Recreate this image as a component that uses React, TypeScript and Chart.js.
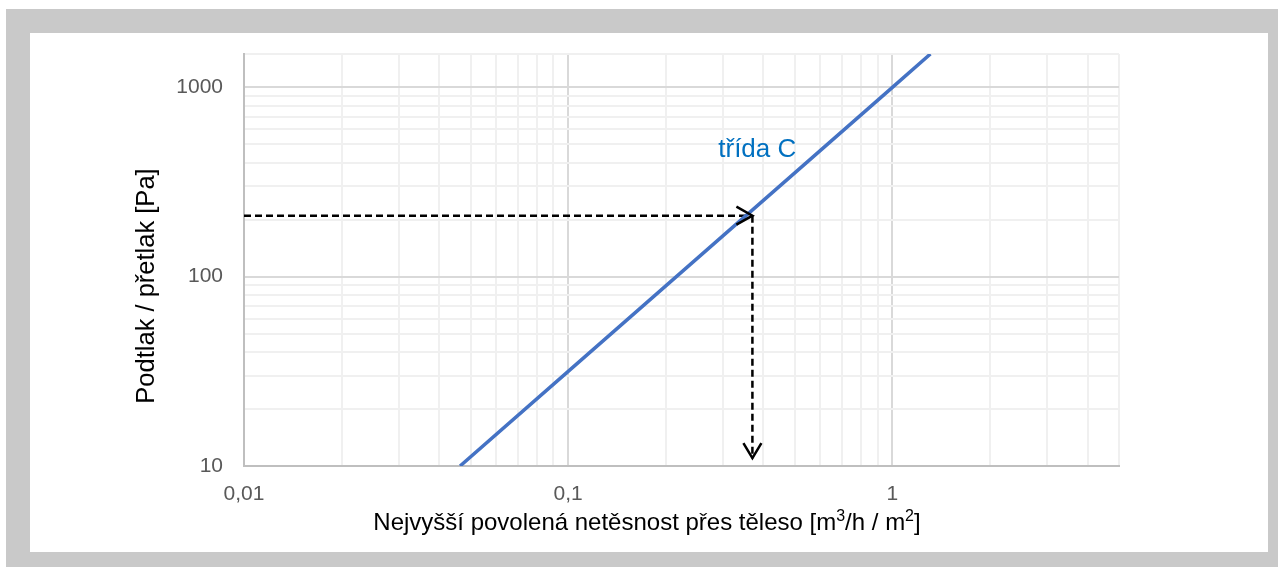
import React, { useEffect, useRef } from "react";
import { Chart, registerables } from "chart.js";

Chart.register(...registerables);

// ---- data ----
const lineX = [0.0464, 0.1, 1, 1.31];
const lineY = [10, 31.6, 1000, 1500];
const guideX = [0.01, 0.37];
const guideY = [210, 210];
const dropX = [0.37, 0.37];
const dropY = [210, 11];
const seriesLabel = "třída C";
const seriesLabelAt = [0.383, 465];

const xTickValues = [
  0.01, 0.02, 0.03, 0.04, 0.05, 0.06, 0.07, 0.08, 0.09,
  0.1, 0.2, 0.3, 0.4, 0.5, 0.6, 0.7, 0.8, 0.9,
  1, 2, 3, 4, 5,
];
const yTickValues = [
  10, 20, 30, 40, 50, 60, 70, 80, 90,
  100, 200, 300, 400, 500, 600, 700, 800, 900,
  1000, 1500,
];
const xMajor = [0.01, 0.1, 1];
const yMajor = [10, 100, 1000];
const xLabels = ["0,01", "0,1", "1"];
const yLabels = ["10", "100", "1000"];

const yTitle = "Podtlak / přetlak [Pa]";
const xTitleParts: [string, boolean][] = [
  ["Nejvyšší povolená netěsnost přes těleso [m", false],
  ["3", true],
  ["/h / m", false],
  ["2", true],
  ["]", false],
];

const FONT = "'Liberation Sans', Arial, sans-serif";

const overlay = {
  id: "overlay",
  afterDatasetsDraw(chart: any) {
    const ctx = chart.ctx;
    const xs = chart.scales.x;
    const ys = chart.scales.y;
    ctx.save();
    // arrow heads
    ctx.strokeStyle = "#000";
    ctx.lineWidth = 2.5;
    ctx.setLineDash([]);
    const hx = xs.getPixelForValue(guideX[1]);
    const hy = ys.getPixelForValue(guideY[1]);
    ctx.beginPath();
    ctx.moveTo(hx - 16, hy - 9);
    ctx.lineTo(hx, hy);
    ctx.lineTo(hx - 16, hy + 9);
    ctx.stroke();
    const vx = xs.getPixelForValue(dropX[1]);
    const vy = ys.getPixelForValue(dropY[1]);
    ctx.beginPath();
    ctx.moveTo(vx - 9, vy - 15);
    ctx.lineTo(vx, vy);
    ctx.lineTo(vx + 9, vy - 15);
    ctx.stroke();

    // series label
    ctx.fillStyle = "#0070C0";
    ctx.font = `26px ${FONT}`;
    ctx.textAlign = "center";
    ctx.textBaseline = "middle";
    ctx.fillText(
      seriesLabel,
      xs.getPixelForValue(seriesLabelAt[0]),
      ys.getPixelForValue(seriesLabelAt[1])
    );

    // y title
    ctx.fillStyle = "#000";
    ctx.font = `25.5px ${FONT}`;
    ctx.save();
    ctx.translate(117, 253);
    ctx.rotate(-Math.PI / 2);
    ctx.textAlign = "center";
    ctx.textBaseline = "middle";
    ctx.fillText(yTitle, 0, 0);
    ctx.restore();

    // x title with superscripts
    const normal = `24px ${FONT}`;
    const small = `16px ${FONT}`;
    let total = 0;
    for (const [t, sup] of xTitleParts) {
      ctx.font = sup ? small : normal;
      total += ctx.measureText(t).width;
    }
    let x = 617 - total / 2;
    const baseY = 497;
    ctx.textAlign = "left";
    ctx.textBaseline = "alphabetic";
    for (const [t, sup] of xTitleParts) {
      ctx.font = sup ? small : normal;
      ctx.fillText(t, x, sup ? baseY - 9 : baseY);
      x += ctx.measureText(t).width;
    }
    ctx.restore();
  },
};

const zeroPad = (s: any) => {
  s.paddingTop = 0;
  s.paddingBottom = 0;
  s.paddingLeft = 0;
  s.paddingRight = 0;
};

export default function App() {
  const ref = useRef<HTMLCanvasElement | null>(null);
  useEffect(() => {
    if (!ref.current) return;
    const gridColor = (major: number[]) => (c: any) =>
      c.tick && major.includes(c.tick.value) ? "#d9d9d9" : "#f0f0f0";
    const chart = new Chart(ref.current, {
      type: "line",
      data: {
        datasets: [
          {
            data: lineX.map((x, i) => ({ x, y: lineY[i] })),
            borderColor: "#4472C4",
            borderWidth: 3.5,
            pointRadius: 0,
          },
          {
            data: guideX.map((x, i) => ({ x, y: guideY[i] })),
            borderColor: "#000",
            borderWidth: 2.5,
            borderDash: [7, 4],
            pointRadius: 0,
          },
          {
            data: dropX.map((x, i) => ({ x, y: dropY[i] })),
            borderColor: "#000",
            borderWidth: 2.5,
            borderDash: [7, 4],
            pointRadius: 0,
          },
        ],
      },
      options: {
        animation: false,
        responsive: false,
        devicePixelRatio: 1,
        layout: { padding: { top: 21, right: 149, left: 0, bottom: 0 } },
        plugins: { legend: { display: false }, tooltip: { enabled: false } },
        scales: {
          x: {
            type: "logarithmic",
            min: 0.01,
            max: 5,
            afterBuildTicks: (s: any) => {
              s.ticks = xTickValues.map((v) => ({ value: v }));
            },
            afterFit: (s: any) => {
              s.height = 86;
              zeroPad(s);
            },
            ticks: {
              autoSkip: false,
              maxRotation: 0,
              padding: 16,
              color: "#595959",
              font: { family: FONT, size: 21 },
              callback: (v: any) => {
                const i = xMajor.indexOf(v);
                return i >= 0 ? xLabels[i] : "";
              },
            },
            grid: { color: gridColor(xMajor), lineWidth: 2, drawTicks: false },
            border: { color: "#bfbfbf", width: 2 },
          },
          y: {
            type: "logarithmic",
            min: 10,
            max: 1500,
            afterBuildTicks: (s: any) => {
              s.ticks = yTickValues.map((v) => ({ value: v }));
            },
            afterFit: (s: any) => {
              s.width = 214;
              zeroPad(s);
            },
            ticks: {
              autoSkip: false,
              padding: 21,
              color: "#595959",
              font: { family: FONT, size: 21 },
              callback: (v: any) => {
                const i = yMajor.indexOf(v);
                return i >= 0 ? yLabels[i] : "";
              },
            },
            grid: { color: gridColor(yMajor), lineWidth: 2, drawTicks: false },
            border: { color: "#bfbfbf", width: 2 },
          },
        },
      },
      plugins: [overlay],
    } as any);
    return () => chart.destroy();
  }, []);

  return (
    <div style={{ position: "absolute", left: 0, top: 0, width: 1278, height: 567, background: "#fff", overflow: "hidden" }}>
      <div style={{ position: "absolute", left: 6, top: 9, width: 1272, height: 558, background: "#c9c9c9" }} />
      <div style={{ position: "absolute", left: 30, top: 33, width: 1238, height: 519, background: "#fff" }}>
        <canvas ref={ref} width={1238} height={519} style={{ display: "block" }} />
      </div>
    </div>
  );
}
